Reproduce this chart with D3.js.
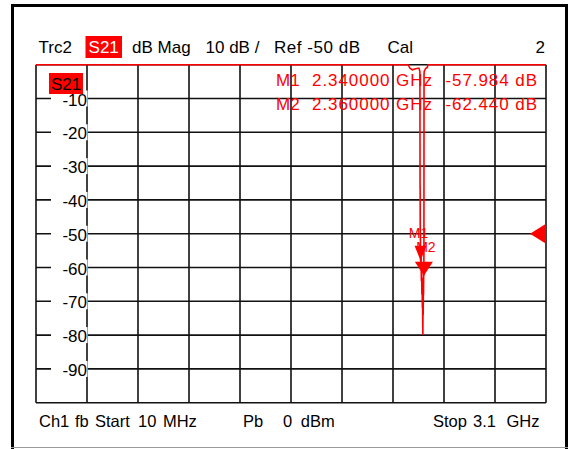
<!DOCTYPE html>
<html><head><meta charset="utf-8">
<script src="https://cdn.jsdelivr.net/npm/d3@7"></script>
<style>
body{margin:0;background:#fff}
svg{display:block}
text{font-family:"Liberation Sans",Arial,sans-serif}
</style>
</head><body>
<svg id="chart" width="569" height="449"></svg>
<script>
// ---- data ----
const freqGHz = [0.01, 0.5, 1.0, 1.5, 2.0, 2.265, 2.275, 2.29, 2.31, 2.33, 2.336, 2.337, 2.3375, 2.338, 2.339, 2.3395, 2.34, 2.341, 2.342, 2.343, 2.345, 2.346, 2.348, 2.349, 2.351, 2.352, 2.353, 2.354, 2.355, 2.356, 2.357, 2.358, 2.359, 2.36, 2.3605, 2.361, 2.362, 2.37, 2.38, 2.386, 2.6, 3.1];
const s21dB   = [0, 0, 0, 0, 0, 0, -1, -1.5, -1.2, -1.0, -2, -36, -37, -47, -52, -50, -57.984, -54, -60, -56, -64, -60, -68, -63, -72, -66, -76, -80, -70, -74, -65, -68, -60, -62.44, -50, -3, -2, -1.2, -0.8, 0, 0, 0];
const yTickValues = [-10, -20, -30, -40, -50, -60, -70, -80, -90];
const yGridValues = [0, -10, -20, -30, -40, -50, -60, -70, -80, -90, -100];
const markerNames = ["M1", "M2"];
const markerFreqGHz = [2.34, 2.36];
const markerDB = [-57.984, -62.440];
const markerFreqLabels = ["2.340000 GHz", "2.360000 GHz"];
const markerValueLabels = ["-57.984 dB", "-62.440 dB"];
const refLevelDB = -50;
const startGHz = 0.01, stopGHz = 3.1;
const headerTexts = ["Trc2", "S21", "dB Mag", "10 dB /", "Ref -50 dB", "Cal", "2"];
const footerTexts = ["Ch1", "fb", "Start", "10 MHz", "Pb", "0 dBm", "Stop", "3.1 GHz"];

// ---- layout ----
const L = 36, R = 546, T = 64.7, B = 402.7;
const svg = d3.select("#chart");
const x = d3.scaleLinear().domain([startGHz, stopGHz]).range([L, R]);
const y = d3.scaleLinear().domain([-100, 0]).range([B, T]);
const red = "#ff0000";

// outer frame
svg.append("line").attr("x1",12.5).attr("x2",12.5).attr("y1",4).attr("y2",449).attr("stroke","#000").attr("stroke-width",3);
svg.append("line").attr("x1",11).attr("x2",568).attr("y1",5.5).attr("y2",5.5).attr("stroke","#000").attr("stroke-width",3);
svg.append("line").attr("x1",566.5).attr("x2",566.5).attr("y1",4).attr("y2",449).attr("stroke","#000").attr("stroke-width",3);
svg.append("line").attr("x1",11).attr("x2",568).attr("y1",447.5).attr("y2",447.5).attr("stroke","#999").attr("stroke-width",1);

// grid
const gridColor = "#111", gw = 1.6;
const xDiv = d3.range(0, 11).map(i => startGHz + i * (stopGHz - startGHz) / 10);
svg.append("g").selectAll("line").data(xDiv).join("line")
  .attr("x1", d => x(d)).attr("x2", d => x(d)).attr("y1", T).attr("y2", B)
  .attr("stroke", gridColor).attr("stroke-width", gw);
svg.append("g").selectAll("line").data(yGridValues).join("line")
  .attr("x1", L).attr("x2", R).attr("y1", d => y(d)).attr("y2", d => y(d))
  .attr("stroke", gridColor).attr("stroke-width", gw);

// y labels with white background
const yl = svg.append("g");
yl.selectAll("rect").data(yTickValues).join("rect")
  .attr("x", 51).attr("y", d => y(d) - 8).attr("width", 36.5).attr("height", 16).attr("fill", "#fff");
yl.selectAll("text").data(yTickValues).join("text")
  .attr("x", 87).attr("y", d => y(d) + 7).attr("text-anchor", "end")
  .attr("font-size", 17).attr("fill", "#000").text(d => d);

// S21 tag in plot
svg.append("rect").attr("x", 49).attr("y", 73).attr("width", 34).attr("height", 21).attr("fill", red);
svg.append("text").attr("x", 66).attr("y", 90).attr("text-anchor","middle").attr("font-size",17).attr("fill","#000").text(headerTexts[1]);

// reference level triangle
const ry = y(refLevelDB);
svg.append("path").attr("d", `M${R},${ry-10} L${R-16},${ry} L${R},${ry+10} Z`).attr("fill", red);

// trace
const line = d3.line().x((d,i) => x(freqGHz[i])).y(d => y(d));
svg.append("path").datum(s21dB).attr("d", line).attr("fill","none").attr("stroke", red).attr("stroke-width", 1.6);

// marker triangles & labels
markerNames.forEach((m, i) => {
  const mx = x(markerFreqGHz[i]), my = y(markerDB[i]);
  const w = i === 0 ? 6 : 9, h = i === 0 ? 15 : 14;
  svg.append("path").attr("d", `M${mx},${my} L${mx-w},${my-h} L${mx+w},${my-h} Z`).attr("fill", red);
});
svg.append("text").attr("x", x(markerFreqGHz[0]) - 2).attr("y", 238).attr("text-anchor","middle").attr("font-size",14).attr("fill",red).text(markerNames[0]);
svg.append("text").attr("x", x(markerFreqGHz[1]) + 2).attr("y", 252).attr("text-anchor","middle").attr("font-size",14).attr("fill",red).text(markerNames[1]);

// marker table
const rows = [86, 110];
markerNames.forEach((m, i) => {
  svg.append("text").attr("x", 276).attr("y", rows[i]).attr("font-size",17).attr("fill",red).text(m);
  svg.append("text").attr("x", 312).attr("y", rows[i]).attr("font-size",17).attr("fill",red).attr("textLength",120).attr("lengthAdjust","spacing").text(markerFreqLabels[i]);
  svg.append("text").attr("x", 445.5).attr("y", rows[i]).attr("font-size",17).attr("fill",red).attr("textLength",91.5).attr("lengthAdjust","spacing").text(markerValueLabels[i]);
});

// header
const hy = 53;
svg.append("text").attr("x", 38.5).attr("y", hy).attr("font-size",17).text(headerTexts[0]);
svg.append("rect").attr("x", 85.5).attr("y", 36).attr("width", 36.5).attr("height", 22).attr("fill", red);
svg.append("text").attr("x", 103.7).attr("y", hy).attr("text-anchor","middle").attr("font-size",17).attr("fill","#fff").text(headerTexts[1]);
svg.append("text").attr("x", 132).attr("y", hy).attr("font-size",17).text(headerTexts[2]);
svg.append("text").attr("x", 205.5).attr("y", hy).attr("font-size",17).text(headerTexts[3]);
svg.append("text").attr("x", 274).attr("y", hy).attr("font-size",17).attr("textLength",86).attr("lengthAdjust","spacing").text(headerTexts[4]);
svg.append("text").attr("x", 387.5).attr("y", hy).attr("font-size",17).text(headerTexts[5]);
svg.append("text").attr("x", 545).attr("y", hy).attr("text-anchor","end").attr("font-size",17).text(headerTexts[6]);

// footer
const fy = 426.5;
const fx = [39, 75, 95, 138, 243, 283, 433, 473];
const fWs = [0, 0, 0, 2, 0, 4, 0, 6];
footerTexts.forEach((t, i) => {
  svg.append("text").attr("x", fx[i]).attr("y", fy).attr("font-size",16.5)
    .attr("word-spacing", fWs[i]).text(t);
});
</script>
</body></html>
